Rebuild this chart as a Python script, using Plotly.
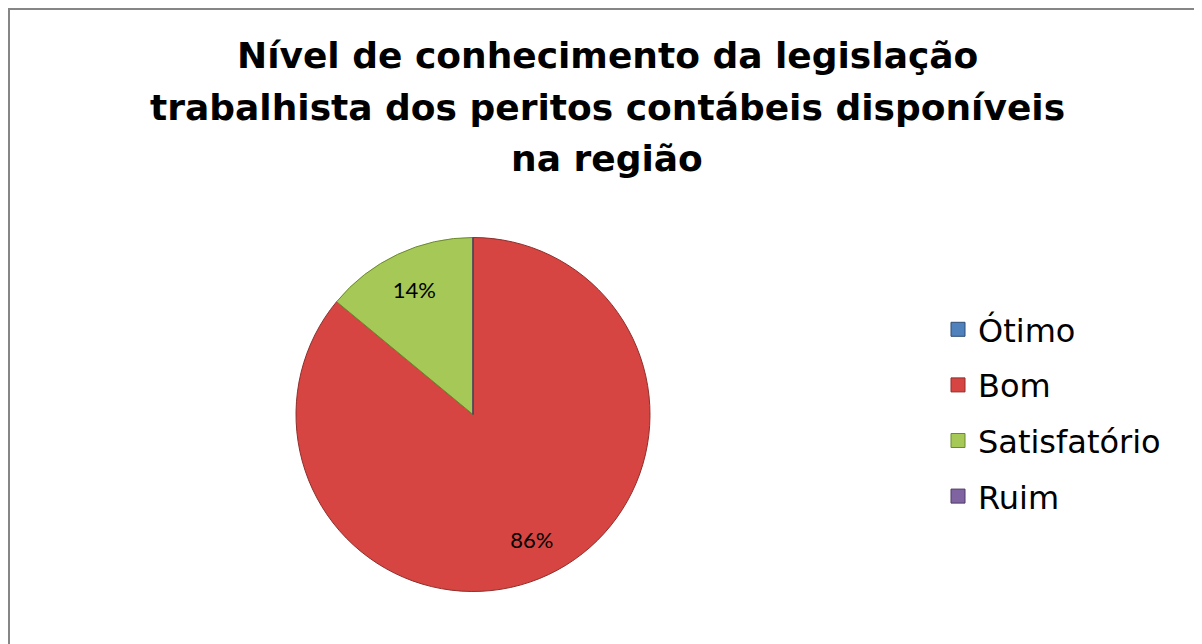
import plotly.graph_objects as go

# dados do gráfico
categorias = ["Ótimo", "Bom", "Satisfatório", "Ruim"]
valores = [0, 86, 14, 0]
cores = ["#4F81BD", "#D64542", "#A6C856", "#8064A2"]
cores_borda = ["#2C4D75", "#8E2F2C", "#6B8A2E", "#4D3B63"]

titulo = ["Nível de conhecimento da legislação",
          "trabalhista dos peritos contábeis disponíveis",
          "na região"]

# a página html tem margem de 8px no body, então a figura é um pouco menor
W, H = 1194, 636


def px_x(x):
    return (x - 8) / W


def px_y(y):
    return 1 - (y - 8) / H


fig = go.Figure()

# pizza principal (fatias e bordas)
fig.add_trace(go.Pie(
    labels=categorias,
    values=valores,
    sort=False,
    direction="clockwise",
    rotation=0,
    marker=dict(colors=cores, line=dict(color=cores_borda, width=1)),
    textinfo="none",
    domain=dict(x=[px_x(296), px_x(650)], y=[px_y(592), px_y(237)]),
    showlegend=False,
    hoverinfo="label+percent",
))

# camada só com os rótulos de percentual (anel transparente, texto mais afastado do centro)
rotulos = ["%{percent:.0%}" if v > 0 else "" for v in valores]
fig.add_trace(go.Pie(
    labels=categorias,
    values=valores,
    sort=False,
    direction="clockwise",
    rotation=0,
    hole=0.56,
    marker=dict(colors=["rgba(0,0,0,0)"] * len(categorias), line=dict(width=0)),
    texttemplate=rotulos,
    textposition="inside",
    insidetextorientation="horizontal",
    textfont=dict(family="Lato, Open Sans, sans-serif", size=22, color="black"),
    domain=dict(x=[px_x(296), px_x(650)], y=[px_y(592), px_y(237)]),
    showlegend=False,
    hoverinfo="skip",
))

# legenda feita com traços vazios para ter espaçamento entre itens
for i, cat in enumerate(categorias):
    fig.add_trace(go.Scatter(
        x=[None], y=[None],
        mode="markers",
        name=cat,
        legendgroup=cat,
        marker=dict(symbol="square", size=14, color=cores[i],
                    line=dict(color=cores_borda[i], width=1)),
    ))

# título em três linhas
fonte_titulo = dict(family="DejaVu Sans, sans-serif", size=36, color="black")
for linha, yc in zip(titulo, [55, 107, 158]):
    fig.add_annotation(text="<b>" + linha + "</b>", xref="paper", yref="paper",
                       x=px_x(607), y=px_y(yc), xanchor="center", yanchor="middle",
                       showarrow=False, font=fonte_titulo)

# moldura do gráfico
fig.add_shape(type="rect", xref="paper", yref="paper",
              x0=1 / W, x1=1.02, y0=-0.02, y1=1 - 1 / H,
              line=dict(color="#868686", width=2))

fig.update_layout(
    width=W, height=H,
    margin=dict(l=0, r=0, t=0, b=0),
    paper_bgcolor="white",
    plot_bgcolor="white",
    xaxis=dict(visible=False),
    yaxis=dict(visible=False),
    showlegend=True,
    legend=dict(
        x=px_x(938), xanchor="left",
        y=px_y(413), yanchor="middle",
        font=dict(family="DejaVu Sans, sans-serif", size=32, color="black"),
        tracegroupgap=11,
        bgcolor="rgba(0,0,0,0)",
    ),
)

fig.write_html("out.html")
